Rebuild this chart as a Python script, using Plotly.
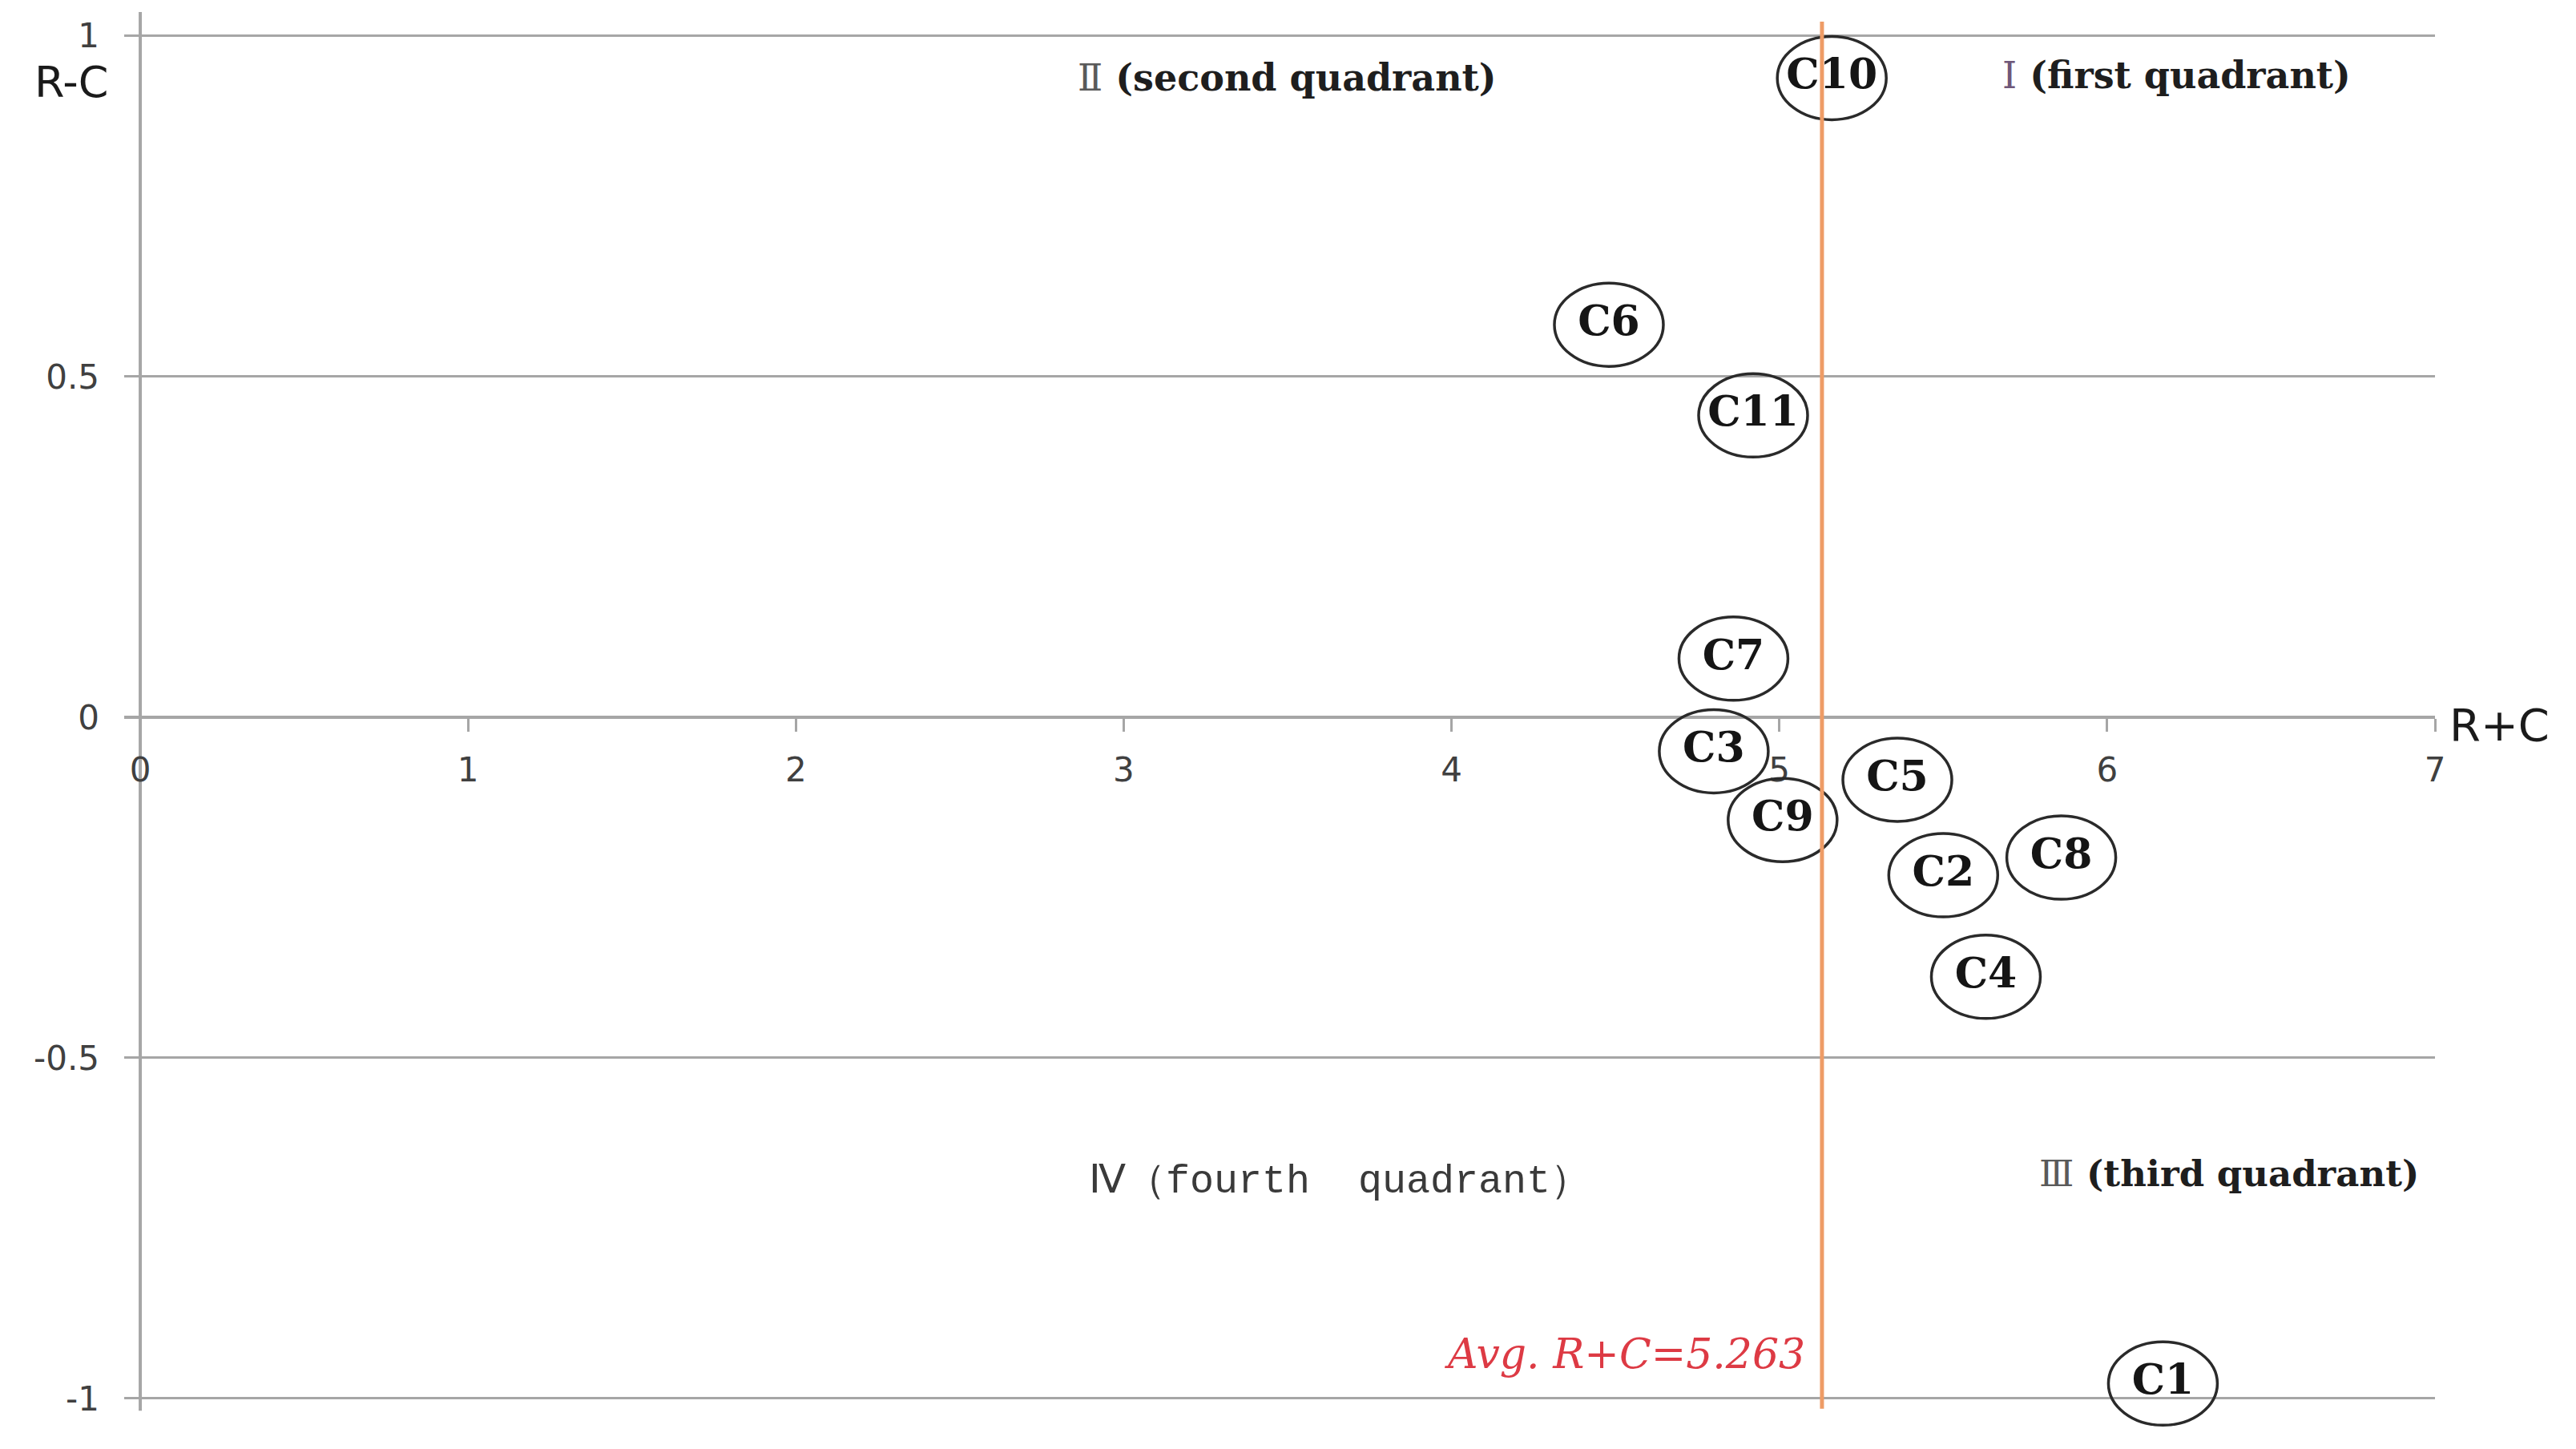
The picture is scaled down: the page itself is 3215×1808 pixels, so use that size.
import plotly.graph_objects as go

# ---------------- data ----------------
labels = ["C1", "C2", "C3", "C4", "C5", "C6", "C7", "C8", "C9", "C10", "C11"]
r_plus_c = [6.17, 5.50, 4.80, 5.63, 5.36, 4.48, 4.86, 5.86, 5.01, 5.16, 4.92]
r_minus_c = [-0.978, -0.232, -0.050, -0.381, -0.092, 0.576, 0.086, -0.206, -0.151, 0.938, 0.443]

x_ticks = [0, 1, 2, 3, 4, 5, 6, 7]
x_tick_text = ["0", "1", "2", "3", "4", "5", "6", "7"]
y_ticks = [-1, -0.5, 0, 0.5, 1]
y_tick_text = ["-1", "-0.5", "0", "0.5", "1"]

avg_label = "Avg. R+C=5.263"
avg_line_x = 5.13          # where the vertical reference line is drawn in the picture

# ---------------- styling ----------------
W, H = 3215, 1808
x_range = [-0.049, 7]
y_range = [-1.06, 1.035]
y_axis_span = [-1.018, 1.035]
grid_col = "#A6A6A6"
ell_w, ell_h = 136, 104     # ellipse size in pixels
label_font = "DejaVu Serif"
tick_font = dict(family="DejaVu Sans", size=42, color="#404040")

fig = go.Figure()

fig.add_trace(go.Scatter(
    x=r_plus_c, y=r_minus_c, text=labels, mode="text",
    textposition="middle center",
    textfont=dict(family=label_font, size=52, color="#151515", weight="bold"),
    hoverinfo="skip", showlegend=False,
))

shapes = []
# vertical axis line at x = 0
shapes.append(dict(
    type="line", xref="x", yref="y", layer="below",
    x0=0, x1=0, y0=y_axis_span[0], y1=y_axis_span[1],
    line=dict(color=grid_col, width=4),
))
for xv, yv in zip(r_plus_c, r_minus_c):
    shapes.append(dict(
        type="circle", xref="x", yref="y",
        xsizemode="pixel", ysizemode="pixel",
        xanchor=xv, yanchor=yv,
        x0=-ell_w / 2, x1=ell_w / 2, y0=-ell_h / 2, y1=ell_h / 2,
        line=dict(color="#2a2a2a", width=3.5),
        fillcolor="rgba(0,0,0,0)",
    ))

# vertical average line
shapes.append(dict(
    type="line", xref="x", yref="y",
    x0=avg_line_x, x1=avg_line_x, y0=-1.015, y1=1.021,
    line=dict(color="#EE9C66", width=5),
))

x_axis_pos = (0 - y_range[0]) / (y_range[1] - y_range[0])

quad_font = dict(family="DejaVu Serif", size=46, color="#1e1e1e", weight="bold")
annotations = [
    dict(text="<span style='color:#5a5a5a;font-weight:normal'>Ⅱ</span> (second quadrant)",
         x=2.855, y=0.939, xref="x", yref="y", xanchor="left", yanchor="middle",
         showarrow=False, font=quad_font),
    dict(text="<span style='color:#6f5779;font-weight:normal'>Ⅰ</span> (first quadrant)",
         x=5.676, y=0.942, xref="x", yref="y", xanchor="left", yanchor="middle",
         showarrow=False, font=quad_font),
    dict(text="Ⅳ（fourth  quadrant）",
         x=2.889, y=-0.682, xref="x", yref="y", xanchor="left", yanchor="middle",
         showarrow=False,
         font=dict(family="Liberation Mono", size=50, color="#3a3a3a")),
    dict(text="<span style='color:#5a5a5a;font-weight:normal'>Ⅲ</span> (third quadrant)",
         x=5.788, y=-0.670, xref="x", yref="y", xanchor="left", yanchor="middle",
         showarrow=False, font=dict(family="DejaVu Serif", size=45, color="#1e1e1e", weight="bold")),
    dict(text=avg_label,
         x=5.084, y=-0.934, xref="x", yref="y", xanchor="right", yanchor="middle",
         showarrow=False,
         font=dict(family="DejaVu Serif", size=52, color="#DD3A44", style="italic")),
    dict(text="R-C", x=0.0, y=0.932, xref="paper", yref="y",
         xanchor="right", yanchor="middle", xshift=-17, showarrow=False,
         font=dict(family="DejaVu Sans", size=54, color="#1a1a1a")),
    dict(text="R+C", x=1.0, y=-0.011, xref="paper", yref="y",
         xanchor="left", yanchor="middle", xshift=16, showarrow=False,
         font=dict(family="DejaVu Sans", size=56, color="#1a1a1a")),
]

plot_top = 15
plot_h = 850 * (y_range[1] - y_range[0])
fig.update_layout(
    width=W, height=H,
    margin=dict(l=155, r=176, t=plot_top, b=H - plot_top - plot_h),
    paper_bgcolor="white", plot_bgcolor="white",
    showlegend=False,
    shapes=shapes,
    annotations=annotations,
    xaxis=dict(
        range=x_range, anchor="free", position=x_axis_pos,
        showline=True, linecolor=grid_col, linewidth=4,
        ticks="outside", ticklen=16, tickwidth=3, tickcolor=grid_col,
        tickvals=x_ticks, ticktext=x_tick_text, tickfont=tick_font,
        ticklabelstandoff=12,
        showgrid=False, zeroline=False,
    ),
    yaxis=dict(
        range=y_range, anchor="x",
        showline=False, ticks="",
        tickvals=y_ticks, ticktext=y_tick_text, tickfont=tick_font,
        ticklabelstandoff=30,
        showgrid=True, gridcolor=grid_col, gridwidth=3,
        zeroline=False,
    ),
)

fig.write_html("out.html", config={"displayModeBar": False},
               post_script="document.body.style.margin='0';document.body.style.overflow='hidden';")
